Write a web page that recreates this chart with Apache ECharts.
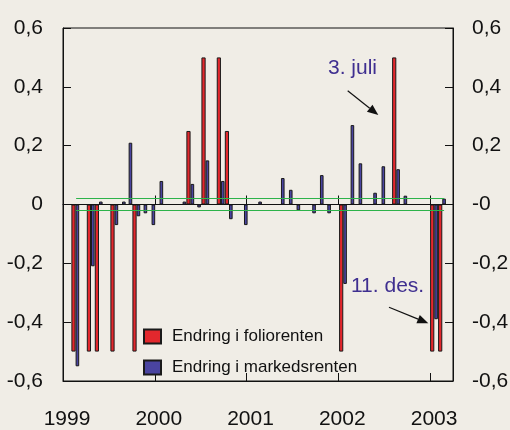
<!DOCTYPE html>
<html>
<head>
<meta charset="utf-8">
<script src="https://cdn.jsdelivr.net/npm/echarts@6/dist/echarts.min.js"></script>
<style>
html, body { margin: 0; padding: 0; background: #f0ede6; }
#main { width: 510px; height: 430px; }
</style>
</head>
<body>
<div id="main"></div>
<script>
// tidspunkt (desimalår), endring i foliorenten og i markedsrenten
var tid = [1999.134, 1999.302, 1999.389, 1999.559, 1999.640, 1999.712, 1999.799, 1999.875, 1999.962,
  2000.049, 2000.300, 2000.387, 2000.460, 2000.551, 2000.718, 2000.806, 2000.969,
  2001.125, 2001.372, 2001.459, 2001.542, 2001.713, 2001.797, 2001.877,
  2002.051, 2002.131, 2002.218, 2002.378, 2002.468, 2002.629, 2002.708,
  2003.043, 2003.130];
var folio = [-0.5, -0.5, -0.5, -0.5, null, null, -0.5, null, null,
  null, null, 0.25, null, 0.5, 0.5, 0.25, null,
  null, null, null, null, null, null, null,
  -0.5, null, null, null, null, 0.5, null,
  -0.5, -0.5];
var marked = [-0.55, -0.21, 0.01, -0.07, 0.01, 0.21, -0.04, -0.03, -0.07,
  0.08, 0.01, 0.07, -0.01, 0.15, 0.08, -0.05, -0.07,
  0.01, 0.09, 0.05, -0.02, -0.03, 0.10, -0.03,
  -0.27, 0.27, 0.14, 0.04, 0.13, 0.12, 0.03,
  -0.39, 0.02];

var aar = ['1999', '2000', '2001', '2002', '2003'];
var yVenstre = ['-0,6', '-0,4', '-0,2', '0', '0,2', '0,4', '0,6'];
var yHoyre = ['-0,6', '-0,4', '-0,2', '-0', '0,2', '0,4', '0,6'];
var gronneLinjer = [0.02, -0.02];
var gronnFra = 1999.12, gronnTil = 2003.13;

var font = "'Liberation Sans', Arial, sans-serif";
var chart = echarts.init(document.getElementById('main'));

var rodData = [];
var blaData = [];
for (var i = 0; i < tid.length; i++) {
  if (folio[i] !== null) rodData.push([tid[i], folio[i]]);
  blaData.push([tid[i], marked[i]]);
}

function yIndex(v) { return Math.round((v + 0.6) / 0.2); }

function pil(x1, y1, x2, y2) {
  var ang = Math.atan2(y2 - y1, x2 - x1);
  var len = 11, w = 4.5;
  var bx = x2 - len * Math.cos(ang), by = y2 - len * Math.sin(ang);
  var px = -Math.sin(ang) * w, py = Math.cos(ang) * w;
  return [
    { type: 'line', shape: { x1: x1, y1: y1, x2: bx, y2: by }, style: { stroke: '#111', lineWidth: 1.2 } },
    { type: 'polygon', shape: { points: [[x2, y2], [bx + px, by + py], [bx - px, by - py]] }, style: { fill: '#111' } }
  ];
}

var lineData = gronneLinjer.map(function (v) {
  return [{ coord: [gronnFra, v] }, { coord: [gronnTil, v] }];
});

option = {
  backgroundColor: '#f0ede6',
  animation: false,
  grid: {
    left: 63, right: 57, top: 28, bottom: 49,
    show: true, borderColor: '#111', borderWidth: 1,
    containLabel: false, outerBoundsMode: 'none'
  },
  legend: {
    left: 143, top: 328, orient: 'vertical', padding: 0,
    itemWidth: 17, itemHeight: 14, itemGap: 14,
    icon: 'rect',
    textStyle: { fontSize: 17, color: '#111', fontFamily: font, padding: [0, 0, 0, 6] },
    data: ['Endring i foliorenten', 'Endring i markedsrenten']
  },
  xAxis: [
    {
      type: 'value', min: 1999, max: 2003.25, interval: 1, position: 'bottom',
      axisLine: { onZero: false, lineStyle: { color: '#111', width: 1 } },
      axisTick: { inside: true, length: 8, lineStyle: { color: '#111' } },
      axisLabel: {
        fontSize: 21, color: '#111', fontFamily: font, margin: 28, padding: [0, 0, 0, 8],
        formatter: function (v) { return aar[Math.round(v - 1999)] || ''; }
      },
      splitLine: { show: false }
    },
    {
      type: 'value', min: 1999, max: 2003.25, interval: 1, position: 'bottom',
      axisLine: { onZero: true, onZeroAxisIndex: 0, lineStyle: { color: '#111', width: 1 } },
      axisTick: { inside: true, length: 9, lineStyle: { color: '#111' } },
      axisLabel: { show: false },
      splitLine: { show: false }
    }
  ],
  yAxis: [
    {
      type: 'value', min: -0.6, max: 0.6, interval: 0.2, position: 'left',
      axisLine: { show: true, lineStyle: { color: '#111' } },
      axisTick: { show: true, inside: true, length: 8, lineStyle: { color: '#111' } },
      axisLabel: {
        fontSize: 21, color: '#111', fontFamily: font, margin: 20,
        formatter: function (v) { return yVenstre[yIndex(v)]; }
      },
      splitLine: { show: false }
    },
    {
      type: 'value', min: -0.6, max: 0.6, interval: 0.2, position: 'right',
      axisLine: { show: true, lineStyle: { color: '#111' } },
      axisTick: { show: true, inside: true, length: 8, lineStyle: { color: '#111' } },
      axisLabel: {
        fontSize: 21, color: '#111', fontFamily: font, margin: 19,
        formatter: function (v) { return yHoyre[yIndex(v)]; }
      },
      splitLine: { show: false }
    }
  ],
  series: [
    {
      name: 'Endring i foliorenten', type: 'bar', xAxisIndex: 0, yAxisIndex: 0,
      data: rodData, barWidth: 4.2, barGap: 0,
      itemStyle: { color: '#e3282d', borderColor: '#1a1a1a', borderWidth: 1 }
    },
    {
      name: 'Endring i markedsrenten', type: 'bar', xAxisIndex: 0, yAxisIndex: 0,
      data: blaData, barWidth: 3.6, barGap: 0,
      itemStyle: { color: '#4a44a0', borderColor: '#1a1a1a', borderWidth: 1 },
      markLine: {
        silent: true, symbol: 'none', label: { show: false },
        lineStyle: { color: '#2db34a', width: 1, type: 'solid' },
        data: lineData
      }
    }
  ],
  graphic: [
    { type: 'text', left: 328, top: 58, style: { text: '3. juli', fontSize: 21, fill: '#3f2f90', fontFamily: font } },
    { type: 'text', left: 351, top: 276, style: { text: '11. des.', fontSize: 21, fill: '#3f2f90', fontFamily: font } }
  ].concat(pil(347.7, 90.7, 378.3, 115)).concat(pil(389, 307.3, 428.3, 323.3))
};

chart.setOption(option);
</script>
</body>
</html>
